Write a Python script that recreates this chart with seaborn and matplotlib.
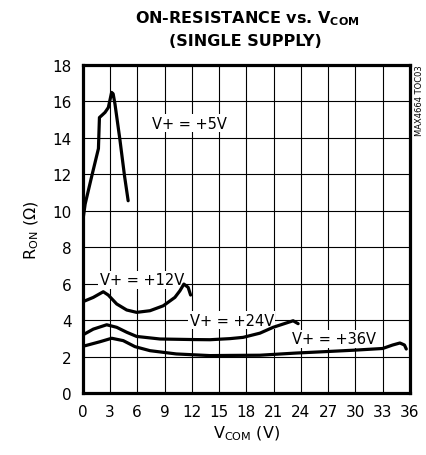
import numpy as np
import pandas as pd
import matplotlib
matplotlib.use('Agg')
import matplotlib.pyplot as plt
import seaborn as sns

# On-resistance vs. V_COM, single supply
vcom_5 = [0.0, 0.27, 1.0, 1.73, 1.84, 2.45, 2.82, 3.18, 3.35, 3.55, 4.09, 4.6, 5.0]
ron_5 = [9.4, 10.36, 11.9, 13.4, 15.1, 15.38, 15.65, 16.48, 16.4, 15.84, 13.9, 11.9, 10.54]

vcom_12 = [0.0, 1.16, 2.26, 2.81, 3.74, 4.84, 5.93, 7.4, 8.86, 10.14, 10.69, 11.13, 11.6, 11.87]
ron_12 = [5.0, 5.24, 5.55, 5.37, 4.88, 4.55, 4.42, 4.51, 4.78, 5.24, 5.6, 5.97, 5.79, 5.37]

vcom_24 = [0.0, 1.16, 2.64, 3.74, 4.84, 5.93, 8.5, 12.0, 14.0, 16.2, 17.65, 19.5, 20.95, 23.15, 23.7]
ron_24 = [3.18, 3.5, 3.74, 3.6, 3.33, 3.1, 2.96, 2.93, 2.92, 2.98, 3.05, 3.28, 3.6, 3.96, 3.8]

vcom_36 = [0.26, 1.9, 3.19, 4.46, 5.75, 7.4, 10.3, 14.0, 16.2, 19.5, 23.5, 27.2, 30.0, 33.0, 34.1, 34.9, 35.4, 35.6]
ron_36 = [2.59, 2.81, 3.0, 2.87, 2.54, 2.32, 2.14, 2.05, 2.06, 2.07, 2.19, 2.28, 2.35, 2.44, 2.63, 2.74, 2.63, 2.41]

x_ticks = list(range(0, 37, 3))
y_ticks = list(range(0, 19, 2))

series = [
    ('V+ = +5V', vcom_5, ron_5),
    ('V+ = +12V', vcom_12, ron_12),
    ('V+ = +24V', vcom_24, ron_24),
    ('V+ = +36V', vcom_36, ron_36),
]
labels = {'V+ = +5V': (7.6, 14.8, 'left'),
          'V+ = +12V': (6.5, 6.2, 'center'),
          'V+ = +24V': (16.4, 4.0, 'center'),
          'V+ = +36V': (27.6, 2.96, 'center')}

sns.set_style('white')
plt.rcParams['font.family'] = ['DejaVu Sans']

fig = plt.figure(figsize=(4.27, 4.56), dpi=100)
ax = fig.add_axes([0.1937, 0.136, 0.7663, 0.72])

for name, xs, ys in series:
    df = pd.DataFrame({'vcom': xs, 'ron': ys})
    # curves above the label boxes
    sns.lineplot(data=df, x='vcom', y='ron', ax=ax, color='black',
                 linewidth=2.3, sort=False, zorder=4.5)
    lx, ly, ha = labels[name]
    ax.text(lx, ly, name, ha=ha, va='center', fontsize=10.5, color='black', zorder=4,
            bbox=dict(boxstyle='square,pad=0.1', facecolor='white', edgecolor='none'))

ax.set_xlim(0, 36)
ax.set_ylim(0, 18)
ax.set_xticks(x_ticks)
ax.set_yticks(y_ticks)
ax.tick_params(axis='both', labelsize=11, length=0, pad=8, colors='black')
ax.grid(True, color='black', linewidth=0.8)
for s in ax.spines.values():
    s.set_linewidth(2.3)
    s.set_color('black')
    s.set_zorder(6)

ax.set_xlabel(r'V$_{\mathrm{COM}}$ (V)', fontsize=11.5, labelpad=3, color='black')
ax.set_ylabel(r'R$_{\mathrm{ON}}$ ($\Omega$)', fontsize=11.5, labelpad=8, color='black')

fig.text(0.58, 0.96, r'ON-RESISTANCE vs. V$_{\mathbf{COM}}$', ha='center', va='center',
         fontsize=11.5, fontweight='bold', color='black')
fig.text(0.575, 0.91, '(SINGLE SUPPLY)', ha='center', va='center',
         fontsize=11.5, fontweight='bold', color='black')
fig.text(0.983, 0.78, 'MAX4664 TOC03', rotation=90, ha='center', va='center',
         fontsize=6, color='black')

plt.savefig('out.png', dpi=100)
